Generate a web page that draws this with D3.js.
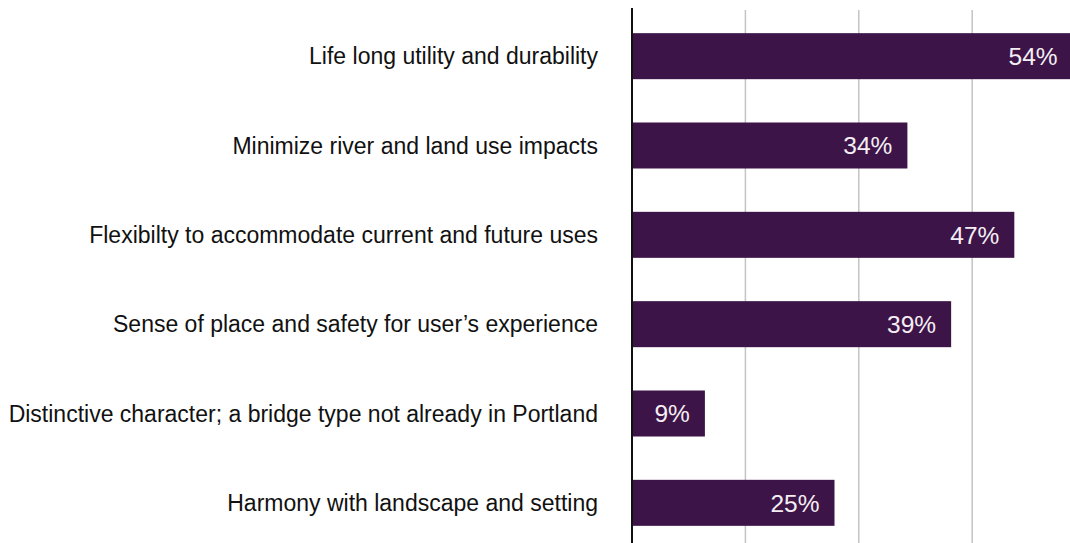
<!DOCTYPE html>
<html>
<head>
<meta charset="utf-8">
<script src="https://cdn.jsdelivr.net/npm/d3@7"></script>
<style>
  html, body { margin: 0; padding: 0; background: #ffffff; }
  svg { display: block; }
</style>
</head>
<body>
<div id="chart"></div>
<script>
const categories = [
  "Life long utility and durability",
  "Minimize river and land use impacts",
  "Flexibilty to accommodate current and future uses",
  "Sense of place and safety for user’s experience",
  "Distinctive character; a bridge type not already in Portland",
  "Harmony with landscape and setting"
];
const values = [54.4, 34, 47.2, 39.4, 9, 25];
const valueLabels = ["54%", "34%", "47%", "39%", "9%", "25%"];
const gridTicks = [0, 14, 28, 42, 56];

const W = 1070, H = 543;
const svg = d3.select("#chart").append("svg").attr("width", W).attr("height", H);

const x = d3.scaleLinear().domain([0, 56]).range([632, 632 + 56 * 8.1]);
const y = d3.scaleBand().domain(categories).range([11.5, 547.5])
  .paddingInner(0.485).paddingOuter(0.2425);

// gridlines
svg.append("g").selectAll("line").data(gridTicks.slice(1)).join("line")
  .attr("x1", d => x(d)).attr("x2", d => x(d))
  .attr("y1", 10).attr("y2", H)
  .attr("stroke", "#c4c4c4").attr("stroke-width", 1.5);

// bars
svg.append("g").selectAll("rect").data(values).join("rect")
  .attr("x", x(0))
  .attr("y", (d, i) => y(categories[i]))
  .attr("width", d => x(d) - x(0))
  .attr("height", y.bandwidth())
  .attr("fill", "#3d1447");

// value labels
svg.append("g").selectAll("text").data(values).join("text")
  .attr("x", d => x(d) - 15)
  .attr("y", (d, i) => y(categories[i]) + y.bandwidth() / 2)
  .attr("dy", "0.36em")
  .attr("text-anchor", "end")
  .attr("font-family", "'Liberation Sans', Arial, sans-serif")
  .attr("font-size", 24.5)
  .attr("fill", "#f4eef4")
  .text((d, i) => valueLabels[i]);

// category labels
svg.append("g").selectAll("text").data(categories).join("text")
  .attr("x", 598)
  .attr("y", d => y(d) + y.bandwidth() / 2)
  .attr("dy", "0.36em")
  .attr("text-anchor", "end")
  .attr("font-family", "'Liberation Sans', Arial, sans-serif")
  .attr("font-size", 23)
  .attr("fill", "#111111")
  .text(d => d);

// axis line
svg.append("line")
  .attr("x1", x(0)).attr("x2", x(0))
  .attr("y1", 8).attr("y2", H)
  .attr("stroke", "#111111").attr("stroke-width", 2);
</script>
</body>
</html>
